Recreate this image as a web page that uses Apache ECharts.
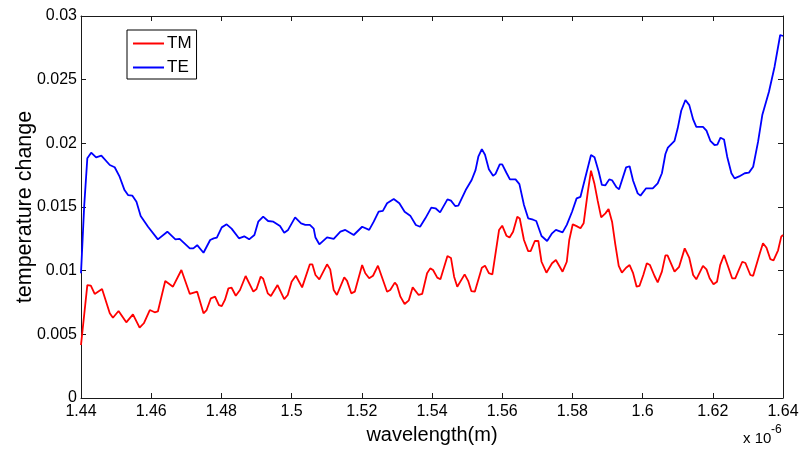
<!DOCTYPE html>
<html>
<head>
<meta charset="utf-8">
<script src="https://cdn.jsdelivr.net/npm/echarts@6/dist/echarts.min.js"></script>
<style>html,body{margin:0;padding:0;background:#fff}#c{width:806px;height:452px}</style>
</head>
<body>
<div id="c"></div>
<script>
// wavelength in nm (axis labelled in units of 1e-6 m)
var tmWavelength = [1440,1441.8,1442.8,1443.9,1446,1448.2,1449.1,1450.7,1452.9,1454.8,1456.7,1457.9,1459.6,1461,1461.9,1464,1466.2,1468.6,1469,1471,1473.1,1474.9,1475.8,1477,1478.2,1479.3,1480.1,1481,1482,1482.9,1484.1,1485.3,1486.9,1489.1,1490,1491.2,1491.9,1493.2,1494.1,1496,1497.9,1498.9,1500,1501.2,1503,1505.2,1505.9,1506.8,1507.9,1510.1,1511,1512,1512.9,1515,1515.8,1517,1518,1520.1,1521,1522.1,1523.2,1524.6,1525,1527.2,1528.1,1529.4,1530,1531,1532.2,1533.4,1534.5,1535,1536.2,1537.2,1538.6,1539.5,1540.3,1541.5,1542.4,1544.4,1545.4,1546.3,1547.2,1549.3,1550.3,1551.2,1552.2,1554.2,1555.1,1556.2,1557.2,1559.1,1560,1561.2,1562.1,1563.1,1564.3,1565,1566.2,1567.4,1568.1,1569.3,1570.3,1571.2,1572.6,1574.2,1575.3,1577.2,1578.4,1579.1,1580.1,1581.2,1582.3,1583.2,1584.4,1585.3,1586.3,1587.2,1588.2,1589.4,1590.3,1591.3,1592.2,1593.2,1594.1,1595.3,1596.3,1597.3,1598.3,1599.1,1600.2,1601.2,1602.1,1603.4,1604.3,1605.5,1606.5,1607.1,1609.1,1610.4,1612,1613.3,1614.4,1615.3,1617.2,1618.2,1619.1,1620.2,1621.2,1622.1,1623.2,1624.2,1625.5,1626.4,1628.4,1629.3,1630.7,1631.5,1633.4,1634.3,1635.3,1636.4,1637.3,1638.6,1639.5,1640];
var tmValues = [0.00416,0.00887,0.00882,0.00817,0.00856,0.00665,0.0063,0.00683,0.00594,0.00657,0.00552,0.00587,0.00691,0.00673,0.0068,0.00919,0.00874,0.01005,0.01005,0.00817,0.00835,0.00665,0.00691,0.00783,0.00796,0.0073,0.00722,0.0077,0.00861,0.00866,0.00803,0.00848,0.00958,0.00835,0.00856,0.00953,0.00937,0.00822,0.00801,0.00887,0.00777,0.00809,0.00913,0.0096,0.00869,0.0105,0.0105,0.00966,0.00932,0.0105,0.0101,0.00848,0.00809,0.00948,0.0092,0.00822,0.00835,0.01044,0.0098,0.0094,0.0096,0.01039,0.01039,0.00835,0.00848,0.00906,0.00887,0.00796,0.00738,0.00767,0.00869,0.00874,0.00809,0.00817,0.0098,0.01018,0.01005,0.00945,0.00932,0.01115,0.011,0.00953,0.00874,0.00971,0.0092,0.0084,0.00835,0.01023,0.01039,0.0098,0.0097,0.01319,0.01353,0.01275,0.0126,0.01306,0.01424,0.0141,0.01241,0.01154,0.01154,0.01233,0.01233,0.0107,0.00984,0.01058,0.01084,0.00992,0.0107,0.01241,0.01364,0.0135,0.01333,0.01372,0.0162,0.01785,0.0168,0.0155,0.01419,0.0145,0.01484,0.01385,0.0121,0.01037,0.00984,0.01023,0.01044,0.0098,0.00874,0.0088,0.00966,0.01058,0.01044,0.00958,0.00908,0.00992,0.0112,0.0112,0.00992,0.0103,0.01175,0.011,0.00966,0.00932,0.01037,0.0101,0.0094,0.00893,0.00913,0.01044,0.01123,0.01044,0.0094,0.0094,0.0107,0.0106,0.00966,0.0096,0.01136,0.01215,0.0118,0.0109,0.0108,0.0116,0.01267,0.0128];

var teWavelength = [1440,1440.9,1441.8,1442.9,1444.3,1445.8,1448.2,1449.6,1451,1452.4,1453.4,1454.6,1455.8,1457,1459.1,1461.9,1464.6,1466.9,1468.1,1471,1472,1473.1,1474.9,1476.8,1477.8,1478.7,1480.1,1481.5,1482.9,1485,1486.5,1487.9,1489.4,1490.5,1491.9,1493.3,1494.8,1496.7,1497.9,1499,1501,1502.7,1503.9,1505.2,1506.3,1506.8,1507.9,1510.1,1512,1513.9,1515.3,1517.7,1520.1,1522.1,1523.4,1524.8,1526,1527.2,1529.1,1530.7,1532.2,1533.8,1535.4,1536.6,1538.1,1539.8,1541,1542.3,1544.4,1545.4,1546.6,1547.5,1549.6,1551.3,1552.4,1553.2,1554.2,1555.1,1556.2,1557.4,1558.1,1559.3,1560,1561.2,1562.2,1563.8,1564.9,1566.2,1567.4,1568.8,1569.7,1571.2,1572.8,1573.2,1574.2,1575.3,1577.2,1578.4,1579.9,1581.2,1582.3,1583.5,1585.3,1586.3,1587.5,1588.4,1589.4,1590.5,1591.3,1592.6,1593.3,1595.3,1596.3,1597.3,1598.6,1599.4,1601,1602.9,1604.3,1605.5,1606.5,1607.2,1609.1,1610,1611,1612.2,1613.3,1614.4,1615.3,1617.2,1618.2,1619.3,1620.5,1621.3,1622.2,1623.2,1624.1,1625.3,1626.2,1627.5,1629.1,1630.3,1631.5,1632.9,1634.1,1636,1637.6,1639.2,1640];
var teValues = [0.0098,0.01503,0.01882,0.01927,0.0189,0.01903,0.0183,0.01812,0.01738,0.01633,0.01594,0.0159,0.01542,0.01429,0.01345,0.01246,0.01306,0.01246,0.0125,0.01175,0.01175,0.012,0.01141,0.01241,0.01254,0.0126,0.0134,0.01364,0.0133,0.01254,0.0127,0.01246,0.0128,0.01385,0.01424,0.0139,0.01385,0.0135,0.01298,0.0132,0.01419,0.01372,0.0136,0.01359,0.0133,0.0126,0.01207,0.01262,0.0125,0.01306,0.0132,0.0128,0.01345,0.0132,0.01385,0.01463,0.0147,0.01529,0.01563,0.0153,0.01463,0.01432,0.01359,0.01345,0.01411,0.01495,0.0149,0.01458,0.0156,0.0155,0.01508,0.0151,0.01633,0.01712,0.0179,0.01895,0.01955,0.0191,0.01796,0.01746,0.0176,0.01835,0.01835,0.01769,0.01717,0.01717,0.0168,0.01516,0.01411,0.014,0.0139,0.01272,0.01233,0.01233,0.01293,0.0132,0.01301,0.0136,0.01463,0.01568,0.0158,0.01712,0.01908,0.0189,0.01777,0.01673,0.0167,0.01717,0.0171,0.01654,0.0164,0.01811,0.0182,0.01706,0.01607,0.01589,0.01647,0.01647,0.01686,0.01765,0.01916,0.01966,0.0202,0.02118,0.02256,0.0234,0.023,0.02188,0.0213,0.0213,0.021,0.0202,0.01987,0.0199,0.02044,0.0203,0.01895,0.01765,0.01725,0.0174,0.01765,0.0177,0.01816,0.02013,0.02222,0.02405,0.02602,0.02851,0.02843];

var seriesNames = ['TM', 'TE'];
var xTickLabels = ['1.44','1.46','1.48','1.5','1.52','1.54','1.56','1.58','1.6','1.62','1.64'];
var yTickLabels = ['0','0.005','0.01','0.015','0.02','0.025','0.03'];
var xAxisTitle = 'wavelength(m)';
var yAxisTitle = 'temperature change';

function zip(xs, ys) { return xs.map(function (x, i) { return [x, ys[i]]; }); }

var FONT = 'Liberation Sans, Arial, Helvetica, sans-serif';
var AX = '#1a1a1a';
var chart = echarts.init(document.getElementById('c'), null, {renderer: 'canvas'});

function valueAxis(extra) {
  return Object.assign({
    type: 'value',
    axisLine: {show: true, onZero: false, lineStyle: {color: AX, width: 1}},
    axisTick: {show: true, inside: true, length: 5, lineStyle: {color: AX}},
    splitLine: {show: false},
    axisLabel: {show: false}
  }, extra);
}

chart.setOption({
  animation: false,
  backgroundColor: '#fff',
  grid: {left: 81, right: 23, top: 16, bottom: 54, containLabel: false, outerBoundsMode: 'none'},
  legend: {
    data: seriesNames,
    orient: 'vertical',
    left: 127, top: 30,
    icon: 'rect',
    itemWidth: 31, itemHeight: 2,
    itemGap: 7,
    padding: [5, 5, 3, 6],
    borderColor: '#000', borderWidth: 1,
    backgroundColor: '#fff',
    textStyle: {fontFamily: FONT, fontSize: 17, color: '#000', lineHeight: 16, padding: [0, 0, 0, -2]}
  },
  xAxis: [
    valueAxis({
      position: 'bottom', min: 1440, max: 1640, interval: 20,
      name: xAxisTitle, nameLocation: 'middle', nameGap: 27, nameMoveOverlap: false,
      nameTextStyle: {fontFamily: FONT, fontSize: 20, color: '#000'},
      axisLabel: {show: true, margin: 6, fontFamily: FONT, fontSize: 16, color: '#000',
        formatter: function (v) { return xTickLabels[Math.round((v - 1440) / 20)]; }}
    }),
    valueAxis({position: 'top', min: 1440, max: 1640, interval: 20})
  ],
  yAxis: [
    valueAxis({
      position: 'left', min: 0, max: 0.03, interval: 0.005,
      name: yAxisTitle, nameLocation: 'middle', nameGap: 45, nameRotate: 90, nameMoveOverlap: false,
      nameTextStyle: {fontFamily: FONT, fontSize: 21.5, color: '#000'},
      axisLabel: {show: true, margin: 4, fontFamily: FONT, fontSize: 16, color: '#000',
        formatter: function (v) { return yTickLabels[Math.round(v / 0.005)]; }}
    }),
    valueAxis({position: 'right', min: 0, max: 0.03, interval: 0.005})
  ],
  series: [
    {name: seriesNames[0], type: 'line', data: zip(tmWavelength, tmValues), showSymbol: false,
      lineStyle: {color: '#ff0000', width: 1.8}, itemStyle: {color: '#ff0000'}, xAxisIndex: 0, yAxisIndex: 0, z: 3},
    {name: seriesNames[1], type: 'line', data: zip(teWavelength, teValues), showSymbol: false,
      lineStyle: {color: '#0000ff', width: 1.8}, itemStyle: {color: '#0000ff'}, xAxisIndex: 0, yAxisIndex: 0, z: 3}
  ],
  graphic: [
    {type: 'text', left: 743, top: 431, style: {text: 'x 10', font: '15px ' + FONT, fill: '#000'}},
    {type: 'text', left: 771, top: 424, style: {text: '-6', font: '12px ' + FONT, fill: '#000'}}
  ]
});
</script>
</body>
</html>
